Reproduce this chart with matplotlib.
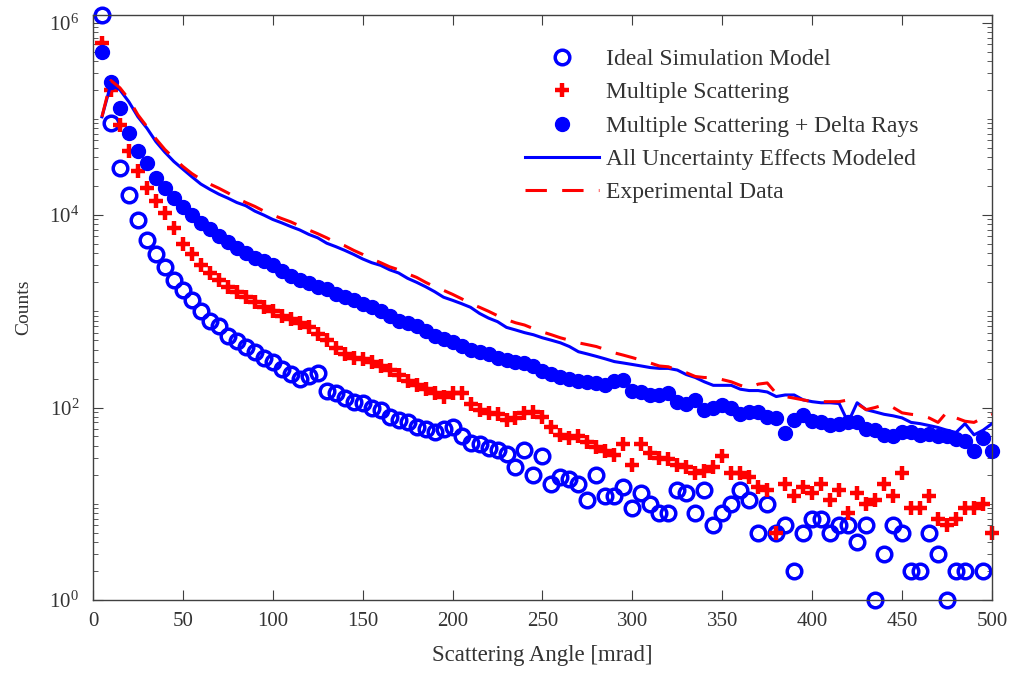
import numpy as np
import matplotlib.pyplot as plt
from matplotlib.ticker import LogLocator, NullFormatter

plt.rcParams['font.family'] = ['Liberation Serif', 'DejaVu Serif']
plt.rcParams['mathtext.fontset'] = 'custom'
plt.rcParams['mathtext.rm'] = 'Liberation Serif'

# scattering angle bins [mrad]
angle = np.arange(5, 505, 5)

# counts (nan = empty bin, not shown on log axis)
ideal = [1.2e6, 91000, 31000, 16000, 8900, 5500, 3900, 2900, 2100, 1650,
         1300, 1000, 800, 700, 560, 490, 430, 380, 330, 300,
         250, 225, 200, 215, 230, 150, 140, 125, 115, 112,
         100, 95, 80, 75, 70, 62, 60, 55, 60, 63,
         50, 43, 42, 38, 36, 33, 24, 36, 20, 31,
         16, 19, 18, 16, 11, 20, 12, 12, 15, 9,
         13, 10, 8, 8, 14, 13, 8, 14, 6, 8,
         10, 14, 11, 5, 10, 5, 6, 2, 5, 7,
         7, 5, 6, 6, 4, 6, 1, 3, 6, 5,
         2, 2, 5, 3, 1, 2, 2, np.nan, 2, np.nan]

mult_scat = [620000, 200000, 87000, 46000, 29000, 19000, 14000, 10500, 7400, 5000,
             3900, 3000, 2500, 2100, 1800, 1600, 1400, 1250, 1100, 1000,
             900, 830, 760, 680, 580, 500, 420, 360, 330, 320,
             300, 270, 245, 220, 190, 170, 155, 140, 130, 140,
             140, 110, 95, 88, 85, 75, 78, 87, 90, 80,
             63, 52, 48, 50, 44, 39, 35, 32, 42, 25,
             42, 34, 30, 29, 25, 24, 21, 22, 24, 31,
             21, 21, 19, 15, 14, 5, 16, 12, 15, 13,
             16, 11, 14, 8, 13, 10, 11, 16, 12, 21,
             9, 9, 12, 7, 6, 7, 9, 9, 10, 5]

mult_delta = [490000, 240000, 130000, 71000, 46000, 35000, 24000, 19000, 15000, 12000,
              10000, 8300, 7200, 6000, 5200, 4500, 4000, 3600, 3300, 3000,
              2600, 2300, 2100, 1950, 1800, 1700, 1500, 1400, 1300, 1200,
              1100, 1000, 900, 800, 750, 700, 620, 560, 520, 480,
              440, 400, 380, 360, 330, 310, 300, 290, 270, 240,
              225, 210, 200, 190, 185, 180, 170, 190, 195, 150,
              145, 135, 135, 140, 115, 110, 120, 95, 100, 105,
              100, 85, 90, 90, 80, 78, 54, 75, 83, 72,
              70, 66, 68, 70, 70, 60, 58, 52, 50, 56,
              55, 52, 53, 50, 50, 47, 45, 35, 48, 35]

all_effects = [105000, 230000, 200000, 150000, 105000, 80000, 58000, 45000, 36000, 30000,
               25000, 21000, 18500, 16500, 15000, 13500, 12500, 11000, 10000, 9000,
               8300, 7600, 7000, 6300, 5800, 5100, 4700, 4300, 3900, 3500,
               3200, 3000, 2700, 2500, 2200, 2000, 1800, 1600, 1400, 1300,
               1200, 1100, 950, 850, 780, 680, 640, 600, 570, 530,
               500, 470, 430, 380, 360, 340, 320, 300, 290, 280,
               270, 260, 255, 255, 245, 220, 205, 185, 170, 170,
               170, 155, 150, 150, 145, 130, 135, 135, 120, 115,
               112, 112, 110, 70, 112, 95, 90, 85, 82, 78,
               70, 68, 65, 62, 58, 55, 68, 52, 58, 68]

experiment = [105000, 250000, 210000, 160000, 110000, 83000, 62000, 48000, 39000, 32000,
              27000, 23500, 21000, 19000, 17000, 15000, 13500, 12300, 11000, 10000,
              9200, 8500, 7700, 7000, 6400, 5800, 5200, 4800, 4300, 3900,
              3500, 3200, 2900, 2700, 2450, 2250, 2000, 1800, 1650, 1500,
              1350, 1200, 1100, 1000, 900, 820, 760, 720, 660, 610,
              570, 530, 500, 470, 450, 430, 400, 370, 350, 330,
              310, 290, 270, 265, 245, 230, 210, 205, 205, 195,
              185, 170, 160, 175, 180, 140, 130, 125, 120, 115,
              115, 115, 115, 120, 110, 95, 100, 107, 100, 88,
              85, 83, 78, 70, 90, 78, 72, 70, 78, 85]

labels = ['Ideal Simulation Model', 'Multiple Scattering',
          'Multiple Scattering + Delta Rays', 'All Uncertainty Effects Modeled',
          'Experimental Data']

fig = plt.figure(figsize=(10.17, 6.81), dpi=100)
ax = fig.add_axes([0.0914, 0.119, 0.884, 0.859])

ax.plot(angle, ideal, 'o', mfc='none', mec='blue', ms=10.5, mew=2.5,
        clip_on=False, label=labels[0])
ax.plot(angle, mult_scat, '+', color='red', ms=9.5, mew=3.2,
        clip_on=False, label=labels[1])
ax.plot(angle, mult_delta, 'o', color='blue', ms=10,
        clip_on=False, label=labels[2])
ax.plot(angle, all_effects, '-', color='blue', lw=2.2, label=labels[3])
ax.plot(angle, experiment, '--', color='red', lw=2.2, dashes=(7, 5),
        label=labels[4])

ax.set_yscale('log')
ax.set_xlim(0, 500)
ax.set_ylim(1, 1.2e6)
ax.set_xticks(np.arange(0, 501, 50))
ax.set_yticks([1, 1e2, 1e4, 1e6])
ax.yaxis.set_minor_locator(LogLocator(base=10, subs=np.arange(1, 10), numticks=20))
ax.yaxis.set_minor_formatter(NullFormatter())

txt = '#333333'
for s in ax.spines.values():
    s.set_color('#404040')
    s.set_linewidth(1.0)
ax.tick_params(which='both', direction='in', top=True, right=True,
               colors='#404040', labelcolor=txt, labelsize=15)
ax.tick_params(which='major', length=7)
ax.tick_params(which='minor', length=3.5)
ax.tick_params(axis='x', which='major', pad=9)
ax.tick_params(axis='y', which='major', pad=10)

ax.set_xlabel('Scattering Angle [mrad]', fontsize=16.5, color=txt, labelpad=10)
ax.set_ylabel('Counts', fontsize=14, color=txt, labelpad=12)

ax.legend(loc='upper left', bbox_to_anchor=(0.505, 0.946),
          bbox_transform=fig.transFigure, frameon=False, fontsize=17,
          handlelength=3.1, handletextpad=0.3, labelspacing=0.5,
          borderpad=0, numpoints=1, labelcolor=txt)

fig.savefig('out.png', dpi=100)
